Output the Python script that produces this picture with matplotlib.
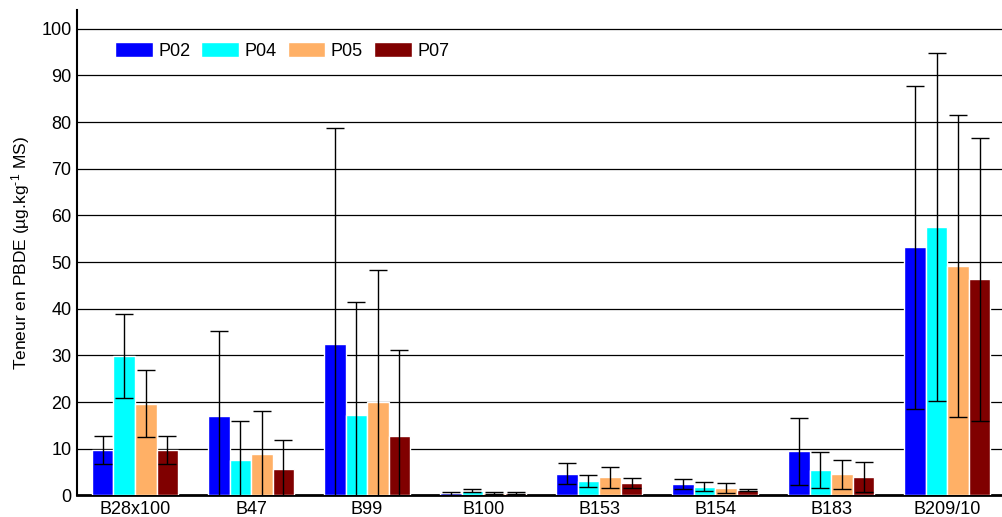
import matplotlib
matplotlib.use("Agg")
import matplotlib.pyplot as plt
import numpy as np

plt.rcParams['font.family'] = ['Liberation Sans', 'DejaVu Sans']
plt.rcParams['mathtext.fontset'] = 'custom'
plt.rcParams['mathtext.rm'] = 'Liberation Sans'
plt.rcParams['mathtext.it'] = 'Liberation Sans'

categories = ["B28x100", "B47", "B99", "B100", "B153", "B154", "B183", "B209/10"]
series = ["P02", "P04", "P05", "P07"]
colors = ["#0000FF", "#00FFFF", "#FFB066", "#800000"]

p02 = [9.8, 17.0, 32.5, 0.5, 4.7, 2.4, 9.5, 53.2]
p04 = [29.8, 7.7, 17.2, 1.0, 3.1, 1.9, 5.5, 57.5]
p05 = [19.7, 8.8, 20.1, 0.5, 3.9, 1.65, 4.5, 49.2]
p07 = [9.8, 5.6, 12.8, 0.5, 2.7, 1.2, 3.9, 46.3]

e02 = [3.0, 18.2, 46.2, 0.3, 2.2, 1.1, 7.2, 34.6]
e04 = [9.0, 8.3, 24.2, 0.3, 1.2, 1.0, 3.9, 37.3]
e05 = [7.2, 9.2, 28.2, 0.2, 2.2, 1.1, 3.1, 32.3]
e07 = [3.0, 6.3, 18.3, 0.2, 1.1, 0.2, 3.2, 30.3]

values = [p02, p04, p05, p07]
errors = [e02, e04, e05, e07]

fig = plt.figure(figsize=(10.03, 5.17), dpi=100)
ax = fig.add_axes([0.0768, 0.0416, 0.9232, 0.939])

x = np.arange(len(categories))
w = 0.186
offsets = [-1.5 * w, -0.5 * w, 0.5 * w, 1.5 * w]

for yv in range(10, 101, 10):
    ax.axhline(yv, color='black', lw=0.9, zorder=0.5)

for i in range(4):
    ax.bar(x + offsets[i], values[i], width=w, color=colors[i], edgecolor='white',
           linewidth=1.0, zorder=2, label=series[i])
    ax.errorbar(x + offsets[i], values[i], yerr=errors[i], fmt='none', ecolor='black',
                elinewidth=1.0, capsize=6.5, capthick=1.0, zorder=3)

ax.set_xlim(-0.5, 7.48)
ax.set_ylim(0, 104)
ax.set_yticks(range(0, 101, 10))
ax.set_xticks(x)
ax.set_xticklabels(categories, fontsize=13)
ax.tick_params(axis='y', length=0, labelsize=13, pad=4)
ax.tick_params(axis='x', length=0, pad=4)

for s in ['top', 'right']:
    ax.spines[s].set_visible(False)
ax.spines['left'].set_linewidth(1.5)
ax.spines['bottom'].set_linewidth(2.0)
ax.spines['bottom'].set_zorder(1)

ax.set_ylabel(r'Teneur en PBDE (µg.kg$^{\text{-1}}$ MS)', fontsize=12.5, labelpad=7)

ax.legend(loc='center left', bbox_to_anchor=(0.041, 0.915), ncol=4, frameon=False,
          fontsize=13, handlelength=2.1, handleheight=0.9, handletextpad=0.3,
          columnspacing=0.6, borderpad=0, borderaxespad=0)

fig.savefig("out.png", dpi=100)
